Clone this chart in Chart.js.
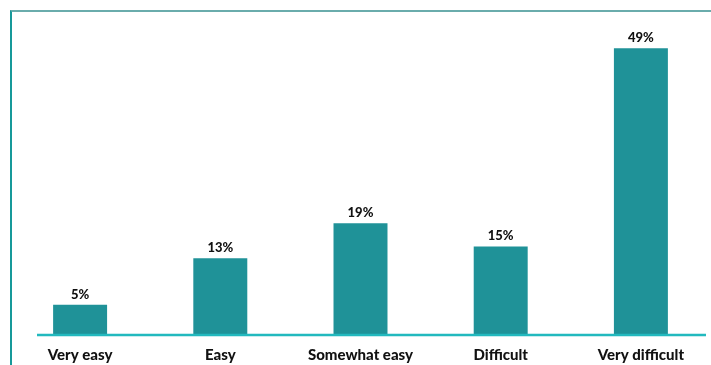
<!DOCTYPE html>
<html>
<head>
<meta charset="utf-8">
<script src="https://cdn.jsdelivr.net/npm/chart.js@4"></script>
<style>
  html, body { margin: 0; padding: 0; background: #ffffff; overflow: hidden; }
  #wrap { position: relative; width: 711px; height: 365px; overflow: hidden; }
  #frame { position: absolute; left: 10px; top: 10px; right: 0; bottom: 0;
           border-top: 2px solid #6aacac; border-left: 2px solid #17999a; pointer-events: none; }
  canvas { position: absolute; left: 0; top: 0; }
</style>
</head>
<body>
<div id="wrap">
  <canvas id="c" width="711" height="376"></canvas>
  <div id="frame"></div>
</div>
<script>
const categories = ["Very easy", "Easy", "Somewhat easy", "Difficult", "Very difficult"];
const values = [5, 13, 19, 15, 49];
const valueLabels = ["5%", "13%", "19%", "15%", "49%"];

const FONT = "Lato, 'DejaVu Sans', sans-serif";

const decorations = {
  id: 'decorations',
  afterDatasetsDraw(chart) {
    const ctx = chart.ctx;
    const y = chart.scales.y;
    const y0 = y.getPixelForValue(0);
    ctx.save();
    // baseline
    ctx.strokeStyle = '#22b9be';
    ctx.lineWidth = 2.5;
    ctx.beginPath();
    ctx.moveTo(chart.chartArea.left + 27, y0 + 1);
    ctx.lineTo(chart.chartArea.right - 5, y0 + 1);
    ctx.stroke();
    // value labels
    ctx.fillStyle = '#111111';
    ctx.font = '900 13px ' + FONT;
    ctx.textAlign = 'center';
    ctx.textBaseline = 'bottom';
    const meta = chart.getDatasetMeta(0);
    meta.data.forEach((bar, i) => {
      ctx.fillText(valueLabels[i], bar.x, bar.y - 4);
    });
    ctx.restore();
  }
};

new Chart(document.getElementById('c'), {
  type: 'bar',
  data: {
    labels: categories,
    datasets: [{
      data: values,
      backgroundColor: '#1f9298',
      borderWidth: 0,
      categoryPercentage: 1.0,
      barPercentage: 0.385
    }]
  },
  options: {
    responsive: false,
    animation: false,
    devicePixelRatio: 1,
    layout: { padding: { left: 10, right: 0, top: 19, bottom: 0 } },
    plugins: { legend: { display: false }, tooltip: { enabled: false } },
    scales: {
      x: {
        grid: { display: false, drawTicks: false },
        border: { display: false },
        ticks: { color: '#111111', font: { family: FONT, size: 15, weight: '900' }, padding: 12, maxRotation: 0 }
      },
      y: {
        display: false,
        min: 0,
        max: 54
      }
    }
  },
  plugins: [decorations]
});
</script>
</body>
</html>
